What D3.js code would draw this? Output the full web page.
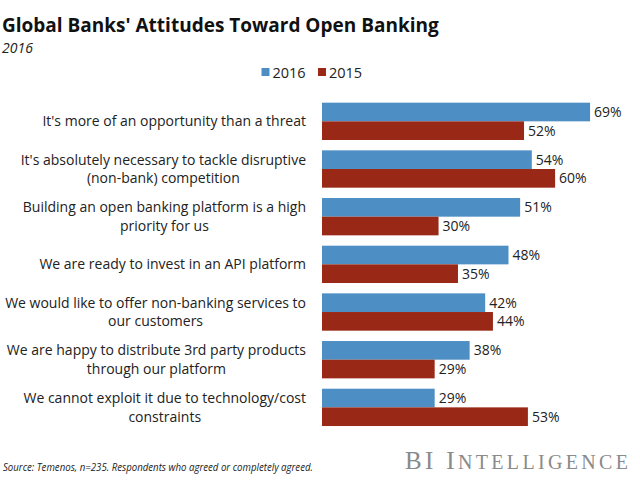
<!DOCTYPE html>
<html><head><meta charset="utf-8">
<script src="https://cdn.jsdelivr.net/npm/d3@7"></script>
<style>body{margin:0;background:#fff}</style>
</head><body>
<script>
const categories = [
  ["It's more of an opportunity than a threat"],
  ["It's absolutely necessary to tackle disruptive", "(non-bank) competition"],
  ["Building an open banking platform is a high", "priority for us"],
  ["We are ready to invest in an API platform"],
  ["We would like to offer non-banking services to", "our customers"],
  ["We are happy to distribute 3rd party products", "through our platform"],
  ["We cannot exploit it due to technology/cost", "constraints"]
];
const series = ["2016", "2015"];
const values2016 = [69, 54, 51, 48, 42, 38, 29];
const values2015 = [52, 60, 30, 35, 44, 29, 53];
const colors = ["#4d8fc5", "#992916"];

const W = 640, H = 480;
const svg = d3.select("body").append("svg").attr("width", W).attr("height", H)
  .style("font-family", "'Open Sans', sans-serif");

const idx = d3.range(categories.length);
const y = d3.scaleBand().domain(idx).range([97.5, 431.2]).paddingInner(0.217).paddingOuter(0.1085);
const y1 = d3.scaleBand().domain(series).range([0, y.bandwidth()]);
const x = d3.scaleLinear().domain([0, 100]).range([322, 710.5]);

// title
svg.append("text").attr("x", 2).attr("y", 32).text("Global Banks' Attitudes Toward Open Banking")
  .style("font-size", "19px").style("font-weight", "bold").attr("fill", "#111");
svg.append("text").attr("x", 2).attr("y", 53).text("2016")
  .style("font-size", "14px").style("font-style", "italic").attr("fill", "#222");

// legend
const leg = svg.append("g");
[[261.5, 272.5], [318, 329]].forEach((p, i) => {
  leg.append("rect").attr("x", p[0]).attr("y", 68).attr("width", 8).attr("height", 8).attr("fill", colors[i]);
  leg.append("text").attr("x", p[1]).attr("y", 78.3).text(series[i]).style("font-size", "14.5px").attr("fill", "#222");
});

const data = idx.map(i => ({i, vals: [values2016[i], values2015[i]]}));
const g = svg.selectAll("g.cat").data(data).join("g").attr("class", "cat")
  .attr("transform", d => `translate(0,${y(d.i)})`);

g.selectAll("rect").data(d => d.vals.map((v, k) => ({v, k}))).join("rect")
  .attr("x", x(0)).attr("y", d => y1(series[d.k]))
  .attr("width", d => x(d.v) - x(0)).attr("height", y1.bandwidth())
  .attr("fill", d => colors[d.k]);

g.selectAll("text.val").data(d => d.vals.map((v, k) => ({v, k}))).join("text").attr("class", "val")
  .attr("x", d => x(d.v) + 4).attr("y", d => y1(series[d.k]) + y1.bandwidth() / 2)
  .attr("dy", "0.35em").text(d => d.v + "%").style("font-size", "14px").attr("fill", "#222");

// category labels: block right-aligned at 306, lines centered within block
g.each(function(d) {
  const lines = categories[d.i];
  const t = d3.select(this).append("text").attr("text-anchor", "middle")
    .style("font-size", "14px").attr("fill", "#222");
  const lh = 18.5;
  const c = y.bandwidth() / 2 - (lines.length - 1) * lh / 2;
  const spans = lines.map((ln, j) =>
    t.append("tspan").attr("y", c + j * lh).attr("dy", "0.35em").text(ln));
  const maxW = d3.max(spans, s => s.node().getComputedTextLength());
  spans.forEach(s => s.attr("x", 306 - maxW / 2));
});

// footer
svg.append("text").attr("x", 3).attr("y", 470.5).text("Source: Temenos, n=235. Respondents who agreed or completely agreed.")
  .attr("textLength", 310).attr("lengthAdjust", "spacingAndGlyphs")
  .style("font-size", "10px").style("font-style", "italic").attr("fill", "#222");
svg.append("text").attr("x", 405).attr("y", 468.5)
  .attr("textLength", 223).attr("lengthAdjust", "spacing")
  .style("font-family", "'Liberation Serif', serif").attr("fill", "#8a8a8a")
  .call(t => {
    t.append("tspan").text("BI I").style("font-size", "25px");
    t.append("tspan").text("NTELLIGENCE").style("font-size", "20px");
  });
</script>
</body></html>
